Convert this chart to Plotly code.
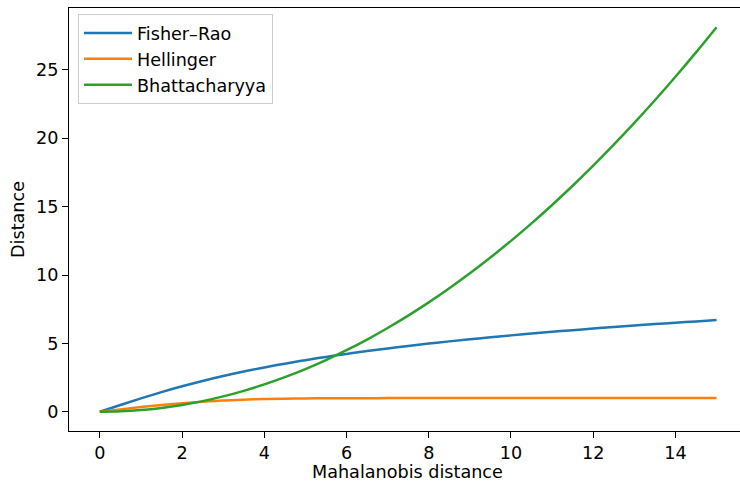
import plotly.graph_objects as go

mahalanobis = [0, 0.5, 1, 1.5, 2, 2.5, 3, 3.5, 4, 4.5, 5, 5.5, 6, 6.5, 7, 7.5,
               8, 8.5, 9, 9.5, 10, 10.5, 11, 11.5, 12, 12.5, 13, 13.5, 14, 14.5, 15]

fisher_rao = [0.0, 0.497, 0.980, 1.437, 1.863, 2.254, 2.613, 2.941, 3.242, 3.519,
              3.775, 4.012, 4.233, 4.439, 4.633, 4.814, 4.986, 5.148, 5.302, 5.448,
              5.587, 5.721, 5.848, 5.970, 6.087, 6.199, 6.307, 6.412, 6.513, 6.610, 6.704]

hellinger = [0.0, 0.175, 0.343, 0.495, 0.627, 0.736, 0.822, 0.885, 0.930, 0.959,
             0.978, 0.989, 0.994, 0.997, 0.999, 1.0, 1.0, 1.0, 1.0, 1.0,
             1.0, 1.0, 1.0, 1.0, 1.0, 1.0, 1.0, 1.0, 1.0, 1.0, 1.0]

bhattacharyya = [0.0, 0.031, 0.125, 0.281, 0.5, 0.781, 1.125, 1.531, 2.0, 2.531,
                 3.125, 3.781, 4.5, 5.281, 6.125, 7.031, 8.0, 9.031, 10.125, 11.281,
                 12.5, 13.781, 15.125, 16.531, 18.0, 19.531, 21.125, 22.781, 24.5, 26.281, 28.125]

x_ticks = [0, 2, 4, 6, 8, 10, 12, 14]
y_ticks = [0, 5, 10, 15, 20, 25]

series = [("Fisher\u2013Rao", fisher_rao, "#1f77b4"),
          ("Hellinger", hellinger, "#ff7f0e"),
          ("Bhattacharyya", bhattacharyya, "#2ca02c")]

fig = go.Figure()
for name, vals, color in series:
    fig.add_trace(go.Scatter(x=mahalanobis, y=vals, mode="lines", name=name,
                             line=dict(color=color, width=2.5, shape="spline")))

font = dict(family="DejaVu Sans", size=17.6, color="black")
fig.update_layout(
    width=740, height=482,
    margin=dict(l=69, r=0, t=8, b=51, autoexpand=False),
    paper_bgcolor="white", plot_bgcolor="white",
    font=font,
    showlegend=True,
    legend=dict(x=(78 - 69) / 671, y=1 - 6 / 423, xanchor="left", yanchor="top",
                bgcolor="rgba(255,255,255,0.8)", bordercolor="#cccccc", borderwidth=1,
                font=font, tracegroupgap=0, itemwidth=48),
    xaxis=dict(range=[-0.75, 15.57], tickvals=x_ticks, ticks="outside", ticklen=6,
               tickwidth=1.3, tickcolor="black", showline=True, linecolor="black",
               linewidth=1.3, mirror=True, showgrid=False, zeroline=False),
    yaxis=dict(range=[-1.406, 29.53], tickvals=y_ticks, ticks="outside", ticklen=6,
               tickwidth=1.3, tickcolor="black", showline=True, linecolor="black",
               linewidth=1.3, mirror=False, showgrid=False, zeroline=False,
               title=dict(text="Distance", standoff=6, font=font)),
    annotations=[dict(text="Mahalanobis distance", xref="paper", yref="paper",
                      x=(407 - 69) / 671, y=(431 - 472) / 423, xanchor="center",
                      yanchor="middle", showarrow=False, font=font, borderpad=0)],
)

fig.write_html("out.html")
